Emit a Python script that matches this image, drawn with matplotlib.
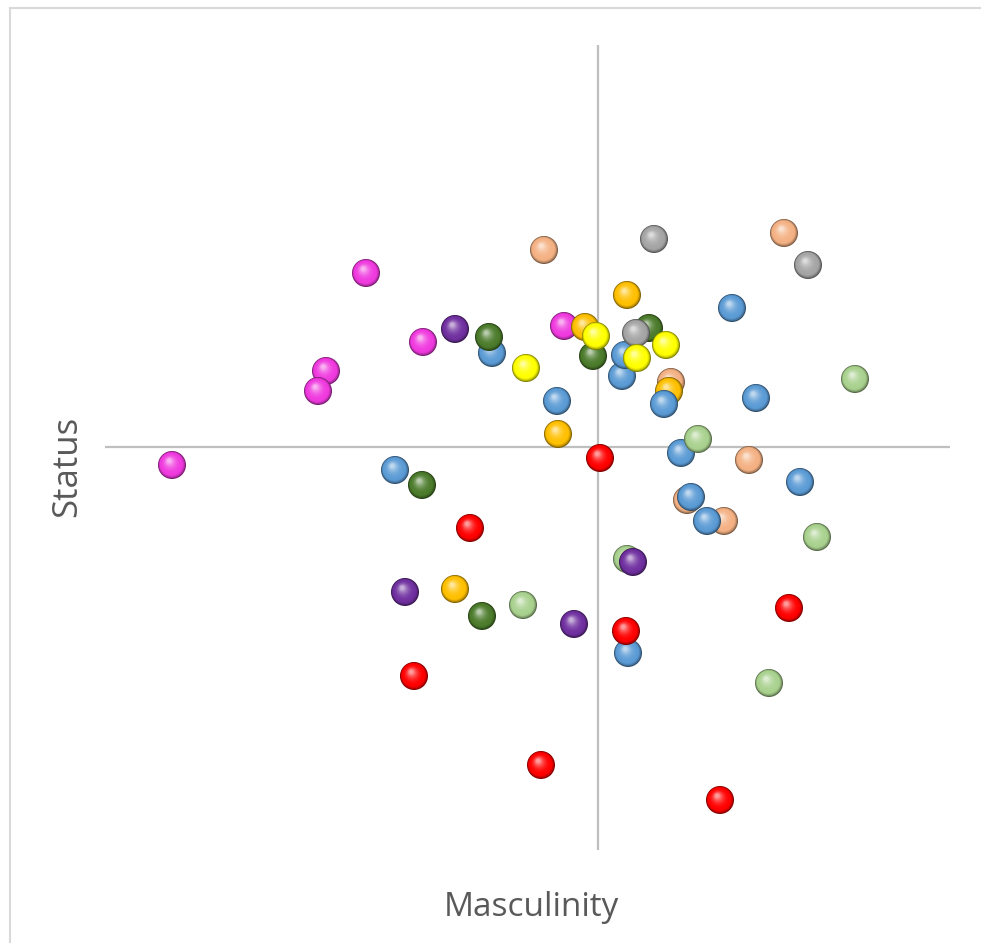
import matplotlib.pyplot as plt
import numpy as np
from matplotlib.colors import to_rgb
from matplotlib.transforms import offset_copy

# x = masculinity, y = status
magenta_x = [-5.8, -4.375, -6.8, -7.0, -10.65, -0.85]
magenta_y = [4.35, 2.625, 1.9, 1.4, -0.45, 3.025]
peach_x = [-1.35, 4.65, 1.825, 3.775, 2.225, 3.15]
peach_y = [4.925, 5.35, 1.625, -0.325, -1.325, -1.85]
gold_x = [0.725, -0.325, -1.0, 1.775, -3.575]
gold_y = [3.8, 3.0, 0.325, 1.4, -3.55]
blue_x = [-2.65, -1.025, 0.6, 0.675, 1.65, 3.35, 3.95, -5.075, 2.075, 2.325, 2.725, 5.05, 0.75]
blue_y = [2.35, 1.15, 1.775, 2.3, 1.075, 3.475, 1.225, -0.575, -0.15, -1.25, -1.85, -0.875, -5.15]
green_x = [-2.725, -0.125, 1.275, -4.4, -2.9]
green_y = [2.75, 2.275, 2.975, -0.95, -4.225]
gray_x = [1.4, 5.25, 0.95]
gray_y = [5.2, 4.55, 2.85]
yellow_x = [-1.8, -0.05, 1.7, 0.975]
yellow_y = [1.975, 2.775, 2.55, 2.225]
lgreen_x = [6.425, 2.5, 5.475, 0.725, -1.875, 4.275]
lgreen_y = [1.7, 0.2, -2.25, -2.8, -3.95, -5.9]
purple_x = [-3.575, -4.825, -0.6, 0.875]
purple_y = [2.95, -3.625, -4.425, -2.875]
red_x = [0.05, -3.2, 4.775, 0.7, -4.6, -1.425, 3.05]
red_y = [-0.275, -2.025, -4.025, -4.6, -5.725, -7.95, -8.825]

series = [
    (magenta_x, magenta_y, "#F03ADF"),
    (peach_x, peach_y, "#F4B183"),
    (gold_x, gold_y, "#FFC000"),
    (blue_x, blue_y, "#5B9BD5"),
    (green_x, green_y, "#4B7B2B"),
    (gray_x, gray_y, "#A5A5A5"),
    (yellow_x, yellow_y, "#FFFF00"),
    (lgreen_x, lgreen_y, "#A9D18E"),
    (purple_x, purple_y, "#7030A0"),
    (red_x, red_y, "#FF0000"),
]

W, H = 981, 943
fig = plt.figure(figsize=(W / 100, H / 100), dpi=100)
ax = fig.add_axes([105 / W, (H - 850) / H, 845 / W, 805 / H])
ax.set_xlim(-12.325, 8.8)
ax.set_ylim(-10.075, 10.05)
ax.axis("off")
ax.axhline(0, color="#BFBFBF", lw=1.6, zorder=0)
ax.axvline(0, color="#BFBFBF", lw=1.6, zorder=0)

R = 14.0  # sphere radius in pixels
n_layers = 18


def sphere(x, y, color):
    base = np.array(to_rgb(color))
    dark = base * 0.5
    light = base + (1 - base) * 0.6
    for i in range(n_layers):
        t = i / (n_layers - 1)
        r = R * (1 - 0.85 * t)
        dx, dy = -0.2 * R * t, 0.3 * R * t
        if t < 0.2:
            c = dark + (base - dark) * (t / 0.2) ** 0.7
        else:
            c = base + (light - base) * ((t - 0.2) / 0.8) ** 2.2
        tr = offset_copy(ax.transData, fig=fig, x=dx, y=dy, units="dots")
        ax.scatter([x], [y], s=(2 * r * 72 / 100) ** 2, color=c,
                   edgecolors="none", transform=tr, clip_on=False)


for xs, ys, col in series:
    for x, y in zip(xs, ys):
        sphere(x, y, col)

# outer frame (only top and left visible)
fig.add_artist(plt.Line2D([10 / W, 1], [1 - 7.5 / H, 1 - 7.5 / H], color="#D9D9D9", lw=1.5))
fig.add_artist(plt.Line2D([10 / W, 10 / W], [0, 1 - 7.5 / H], color="#D9D9D9", lw=1.5))

fig.text(531 / W, 1 - 907 / H, "Masculinity", ha="center", va="center",
         fontsize=24, color="#595959", family="Open Sans")
fig.text(67 / W, 1 - 466 / H, "Status", ha="center", va="center", rotation=90,
         fontsize=25, color="#595959", family="Open Sans")

fig.savefig("out.png", dpi=100)
